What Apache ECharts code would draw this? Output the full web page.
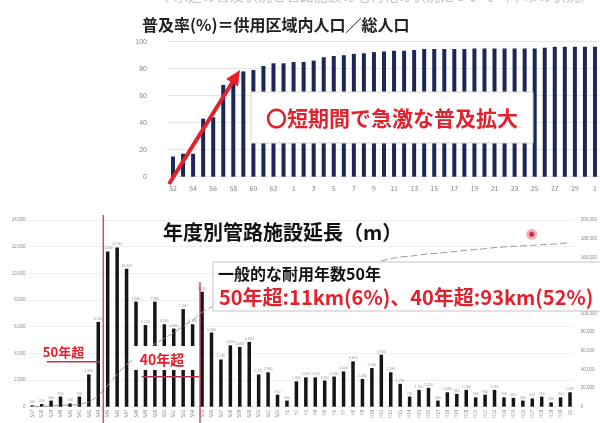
<!DOCTYPE html>
<html><head><meta charset="utf-8">
<script src="https://cdn.jsdelivr.net/npm/echarts@6/dist/echarts.min.js"></script>
<style>html,body{margin:0;padding:0;background:#fff}#c{width:600px;height:423px}</style>
</head><body><div id="c"></div>
<script>
// ---- top chart: 普及率 (%) ----
const rateYears = ['S52','S53','S54','S55','S56','S57','S58','S59','S60','S61','S62','S63',
  'H1','H2','H3','H4','H5','H6','H7','H8','H9','H10','H11','H12','H13','H14','H15','H16','H17','H18',
  'H19','H20','H21','H22','H23','H24','H25','H26','H27','H28','H29','H30','R1'];
const rateValues = [15,17,17,43,44,68,70,78,79,82,84,84,85,85,86,88.5,89.4,90,91,91.4,92.3,92.8,93.3,93.3,93.8,94.6,94.6,94.6,94.6,94.6,95,95,95,95,95,95,95,95.6,96.3,96.3,96.3,96.3,96.3];
const rateTicks = [0,20,40,60,80,100];

// ---- bottom chart: 年度別管路施設延長 (m) ----
const pipeYears = ['S37','S38','S39','S40','S41','S42','S43','S44','S45','S46','S47','S48','S49','S50',
  'S51','S52','S53','S54','S55','S56','S57','S58','S59','S60','S61','S62','S63',
  'H1','H2','H3','H4','H5','H6','H7','H8','H9','H10','H11','H12','H13','H14','H15','H16','H17','H18',
  'H19','H20','H21','H22','H23','H24','H25','H26','H27','H28','H29','H30','R1'];
const pipeLength = [100,200,460,760,240,760,2420,6360,11640,11940,10340,7880,6120,7880,6180,5860,7320,6180,
  8620,5560,3540,4600,4480,4860,2420,2580,900,460,1900,2200,2200,1960,2260,2640,3400,2080,2900,
  3900,2580,1720,760,1260,1420,460,1080,960,1260,700,900,1260,700,660,460,620,760,320,700,1080];
const pipeCumulative = [100,300,760,1520,1760,2520,4940,11300,22940,34880,45220,53100,59220,67100,73280,79140,86460,92640,
  101260,106820,110360,114960,119440,124300,126720,129300,130200,130660,132560,134760,136960,138920,141180,143820,147220,149300,152200,
  156100,158680,160400,161160,162420,163840,164300,165380,166340,167600,168300,169200,170460,171160,171820,172280,172900,173660,173980,174680,175760];
const lengthTicks = [0,2000,4000,6000,8000,10000,12000,14000];
const cumulativeTicks = [0,20000,40000,60000,80000,100000,120000,140000,160000,180000,200000];

const JP = '"Noto Sans CJK JP", "Noto Sans", sans-serif';
const chart = echarts.init(document.getElementById('c'));
const fmt = v => Number(v).toLocaleString('en-US');

// arrow geometry for annotation
const ax0 = 169, ay0 = 184, ax1 = 240, ay1 = 70;
const ang = Math.atan2(ay1 - ay0, ax1 - ax0);
const hl = 15, hw = 7;
const bx = ax1 - hl * Math.cos(ang), by = ay1 - hl * Math.sin(ang);
const head = [[ax1, ay1], [bx + hw * Math.sin(ang), by - hw * Math.cos(ang)], [bx - hw * Math.sin(ang), by + hw * Math.cos(ang)]];

const red = '#e3202b';
const dred = '#b8364a';

chart.setOption({
  animation: false,
  backgroundColor: '#fff',
  grid: [
    {left: 168, right: 0, top: 41.7, bottom: 246.3},
    {left: 27.5, right: 10.9, top: 220, bottom: 16.3}
  ],
  xAxis: [
    {type: 'category', gridIndex: 0, data: rateYears,
     axisLine: {show: false}, axisTick: {show: false},
     axisLabel: {interval: 1, fontSize: 7, color: '#888', margin: 8, fontFamily: JP,
       formatter: v => v.replace(/^[SHR]/, '')}},
    {type: 'category', gridIndex: 1, data: pipeYears,
     axisLine: {show: false}, axisTick: {show: false},
     axisLabel: {interval: 0, fontSize: 4.5, color: '#888', margin: 3, rotate: 90, fontFamily: JP}}
  ],
  yAxis: [
    {type: 'value', gridIndex: 0, min: rateTicks[0], max: rateTicks[rateTicks.length-1], interval: 20,
     axisLine: {show: false}, axisTick: {show: false},
     splitLine: {lineStyle: {color: '#e6e6e6', width: 1}},
     axisLabel: {fontSize: 7, color: '#888', margin: 21}},
    {type: 'value', gridIndex: 1, min: lengthTicks[0], max: lengthTicks[lengthTicks.length-1], interval: 2000,
     axisLine: {show: false}, axisTick: {show: false},
     splitLine: {lineStyle: {color: '#efefef', width: 1}},
     axisLabel: {fontSize: 4.5, color: '#888', margin: 2, formatter: fmt}},
    {type: 'value', gridIndex: 1, position: 'right', min: cumulativeTicks[0], max: cumulativeTicks[cumulativeTicks.length-1], interval: 20000,
     axisLine: {show: false}, axisTick: {show: false}, splitLine: {show: false},
     axisLabel: {fontSize: 4.5, color: '#888', margin: 6, formatter: fmt}}
  ],
  series: [
    {type: 'bar', xAxisIndex: 0, yAxisIndex: 0, data: rateValues, barWidth: 4,
     itemStyle: {color: '#1b2757'}},
    {type: 'bar', xAxisIndex: 1, yAxisIndex: 1, data: pipeLength, barWidth: 3.5,
     itemStyle: {color: '#151515'},
     label: {show: true, position: 'top', fontSize: 3.5, color: '#999', distance: 1, formatter: p => fmt(p.value)}},
    {type: 'line', xAxisIndex: 1, yAxisIndex: 2, data: pipeCumulative, symbol: 'none',
     lineStyle: {color: '#9a9a9a', width: 1, type: [7, 3]}, z: 3}
  ],
  graphic: [
    {type: 'text', left: 160, top: -11, z: 100, style: {text: '下水道の普及状況と管路施設の老朽化の状況について（本市の状況）', font: '14px ' + JP, fill: '#c4c4c4'}},
    {type: 'text', x: 142, y: 25, z: 100, style: {text: '普及率(%)＝供用区域内人口／総人口', font: 'bold 16px ' + JP, fill: '#222', textVerticalAlign: 'middle'}},
    // top annotation box
    {type: 'rect', z: 100, shape: {x: 251, y: 92, width: 282, height: 51}, style: {fill: '#fff', stroke: '#d6d6d6', lineWidth: 1}},
    {type: 'text', z: 101, x: 392, y: 118, style: {text: '〇短期間で急激な普及拡大', font: 'bold 21px ' + JP, fill: red, textAlign: 'center', textVerticalAlign: 'middle'}},
    // arrow
    {type: 'line', z: 102, shape: {x1: ax0, y1: ay0, x2: bx, y2: by}, style: {stroke: red, lineWidth: 4}},
    {type: 'polygon', z: 102, shape: {points: head}, style: {fill: red}},
    // bottom title
    {type: 'text', z: 100, x: 163, y: 232, style: {text: '年度別管路施設延長（m）', font: 'bold 20px ' + JP, fill: '#111', textVerticalAlign: 'middle'}},
    // bottom info box
    {type: 'rect', z: 100, shape: {x: 213, y: 262, width: 400, height: 49}, style: {fill: '#fff', stroke: '#c4c4c4', lineWidth: 1}},
    {type: 'text', z: 101, x: 218, y: 274, style: {text: '一般的な耐用年数50年', font: 'bold 16px ' + JP, fill: '#111', textVerticalAlign: 'middle'}},
    {type: 'text', z: 101, x: 219, y: 297, style: {text: '50年超:11km(6%)、40年超:93km(52%)', font: 'bold 20px ' + JP, fill: red, textVerticalAlign: 'middle'}},
    // red vertical dividers
    {type: 'line', z: 103, shape: {x1: 103.3, y1: 215, x2: 103.3, y2: 423}, style: {stroke: dred, lineWidth: 1.5, opacity: 0.85}},
    {type: 'line', z: 103, shape: {x1: 200, y1: 282, x2: 200, y2: 423}, style: {stroke: dred, lineWidth: 1.5, opacity: 0.85}},
    // 50年超 label + line
    {type: 'text', z: 101, x: 63.5, y: 352, style: {text: '50年超', font: 'bold 13px ' + JP, fill: red, textAlign: 'center', textVerticalAlign: 'middle'}},
    {type: 'line', z: 101, shape: {x1: 46.7, y1: 361.7, x2: 100, y2: 361.7}, style: {stroke: dred, lineWidth: 1.5}},
    // 40年超 label on white + line
    {type: 'rect', z: 100, shape: {x: 134, y: 346, width: 65, height: 24}, style: {fill: '#fff'}},
    {type: 'text', z: 101, x: 162, y: 359.5, style: {text: '40年超', font: 'bold 14px ' + JP, fill: red, textAlign: 'center', textVerticalAlign: 'middle'}},
    {type: 'line', z: 101, shape: {x1: 141.7, y1: 376.7, x2: 199, y2: 376.7}, style: {stroke: dred, lineWidth: 1.5}},
    // red dot marker
    {type: 'circle', z: 101, shape: {cx: 531.7, cy: 234.3, r: 5.5}, style: {fill: 'rgba(230,80,100,0.45)'}},
    {type: 'circle', z: 102, shape: {cx: 531.7, cy: 234.3, r: 2.5}, style: {fill: '#d02a45'}}
  ]
});
</script>
</body></html>
